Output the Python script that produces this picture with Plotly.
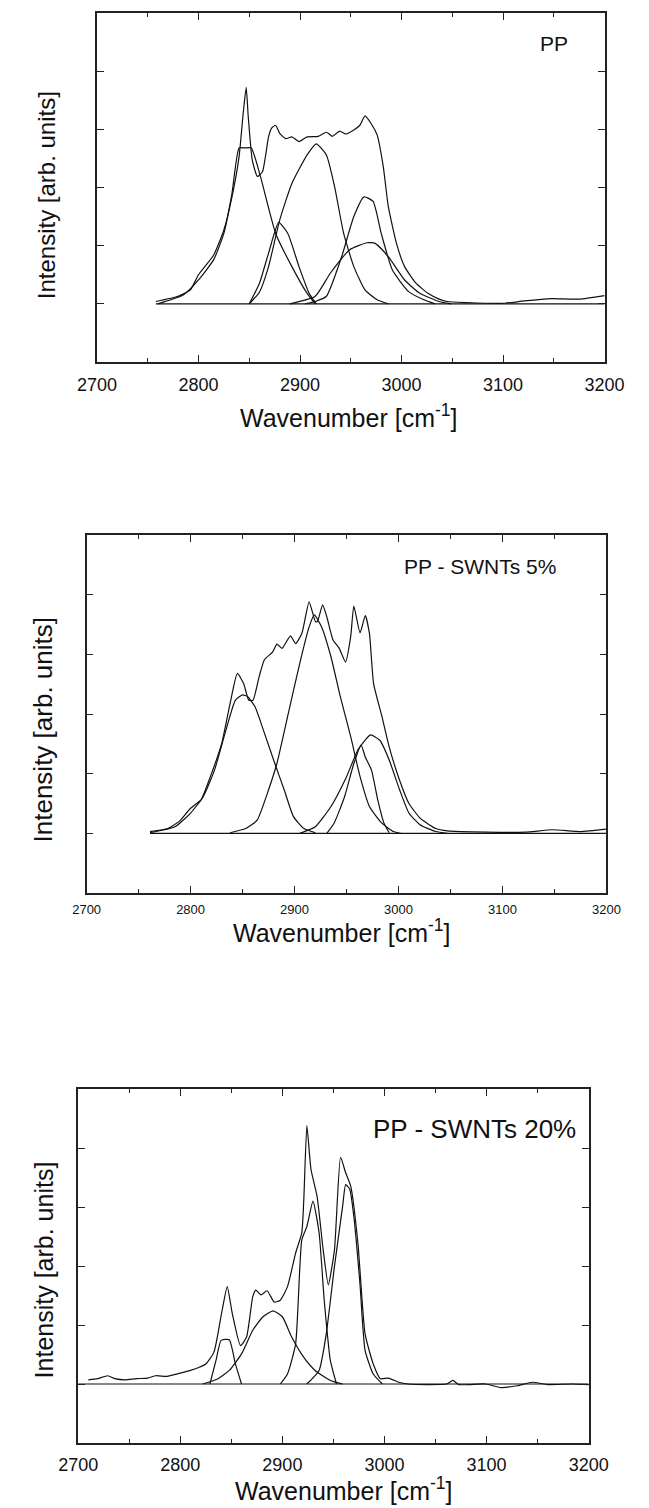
import plotly.graph_objects as go

W, H = 649, 1508

# ---------------- Panel 1: PP ----------------
pp_total_x = [2758, 2780, 2792, 2800, 2815, 2825, 2833, 2840, 2844, 2847, 2849, 2853, 2858, 2863, 2869, 2872,
              2876, 2880, 2886, 2892, 2899, 2907, 2918, 2926, 2932, 2939, 2945, 2953, 2959, 2964, 2970, 2976,
              2982, 2987, 2995, 3003, 3014, 3026, 3037, 3045, 3064, 3083, 3102, 3121, 3148, 3175, 3200]
pp_total_y = [0.04, 0.13, 0.24, 0.50, 0.84, 1.27, 1.84, 2.53, 3.27, 3.72, 3.22, 2.47, 2.19, 2.27, 2.87, 3.02,
              3.07, 2.93, 2.84, 2.87, 2.79, 2.87, 2.88, 2.95, 2.88, 2.97, 2.92, 2.99, 3.07, 3.23, 3.10, 2.90,
              2.36, 1.67, 1.04, 0.64, 0.36, 0.18, 0.08, 0.04, 0.02, 0.01, 0.01, 0.05, 0.09, 0.08, 0.14]
pp_c1_x = [2760, 2785, 2800, 2815, 2825, 2833, 2840, 2846, 2852, 2861, 2876, 2892, 2907, 2915]
pp_c1_y = [0.00, 0.15, 0.41, 0.76, 1.21, 1.90, 2.68, 2.68, 2.68, 2.19, 1.21, 0.64, 0.18, 0.00]
pp_c2_x = [2850, 2860, 2869, 2879, 2888, 2899, 2909, 2916]
pp_c2_y = [0.00, 0.35, 0.87, 1.40, 1.21, 0.64, 0.18, 0.00]
pp_c3_x = [2850, 2860, 2869, 2880, 2892, 2907, 2916, 2926, 2934, 2943, 2953, 2964, 2976, 2987]
pp_c3_y = [0.00, 0.20, 0.64, 1.44, 2.07, 2.56, 2.75, 2.56, 2.02, 1.21, 0.64, 0.24, 0.07, 0.00]
pp_c4_x = [2905, 2915, 2926, 2941, 2953, 2963, 2972, 2980, 2991, 3007, 3022, 3033]
pp_c4_y = [0.00, 0.04, 0.13, 0.81, 1.50, 1.84, 1.76, 1.21, 0.58, 0.21, 0.07, 0.00]
pp_c5_x = [2890, 2915, 2930, 2949, 2966, 2974, 2987, 3003, 3018, 3037, 3049]
pp_c5_y = [0.00, 0.13, 0.53, 0.93, 1.05, 1.04, 0.81, 0.41, 0.18, 0.04, 0.00]
pp_base_x = [2758, 3200]
pp_base_y = [0, 0]

# ---------------- Panel 2: PP - SWNTs 5% ----------------
s5_total_x = [2761, 2778, 2789, 2800, 2810, 2819, 2830, 2838, 2845, 2851, 2856, 2860, 2866, 2871, 2879, 2883,
              2888, 2896, 2901, 2907, 2914, 2920, 2922, 2927, 2931, 2937, 2943, 2949, 2954, 2957, 2963, 2968,
              2972, 2976, 2984, 2991, 3001, 3010, 3021, 3036, 3047, 3085, 3122, 3148, 3175, 3200]
s5_total_y = [0.03, 0.08, 0.20, 0.42, 0.56, 0.95, 1.51, 2.18, 2.68, 2.51, 2.23, 2.23, 2.63, 2.91, 3.04, 3.17,
              3.10, 3.31, 3.18, 3.35, 3.88, 3.55, 3.55, 3.83, 3.63, 3.24, 3.10, 2.87, 3.30, 3.81, 3.36, 3.65,
              3.35, 2.51, 1.96, 1.45, 0.89, 0.50, 0.25, 0.08, 0.04, 0.02, 0.02, 0.06, 0.03, 0.07]
s5_c1_x = [2761, 2785, 2800, 2812, 2823, 2834, 2843, 2850, 2855, 2862, 2871, 2881, 2890, 2899, 2909, 2920]
s5_c1_y = [0.01, 0.11, 0.34, 0.61, 1.06, 1.73, 2.23, 2.32, 2.29, 2.12, 1.68, 1.17, 0.73, 0.28, 0.08, 0.01]
s5_c2_x = [2838, 2853, 2864, 2875, 2883, 2894, 2905, 2914, 2919, 2926, 2935, 2944, 2954, 2963, 2972, 2984, 2995, 3002]
s5_c2_y = [0.01, 0.08, 0.22, 0.73, 1.17, 2.01, 2.85, 3.46, 3.66, 3.46, 2.96, 2.29, 1.62, 0.95, 0.45, 0.17, 0.03, 0.00]
s5_c3_x = [2931, 2938, 2948, 2957, 2964, 2968, 2974, 2980, 2986, 2991]
s5_c3_y = [0.00, 0.17, 0.61, 1.17, 1.48, 1.28, 1.06, 0.56, 0.17, 0.01]
s5_c4_x = [2905, 2920, 2935, 2950, 2961, 2973, 2982, 2991, 3001, 3010, 3021, 3036, 3047]
s5_c4_y = [0.00, 0.11, 0.45, 0.95, 1.40, 1.65, 1.56, 1.23, 0.73, 0.34, 0.14, 0.03, 0.00]
s5_base_x = [2761, 3200]
s5_base_y = [0, 0]

# ---------------- Panel 3: PP - SWNTs 20% ----------------
s20_total_x = [2710, 2719, 2729, 2736, 2746, 2757, 2768, 2776, 2787, 2799, 2810, 2818, 2825, 2833, 2841, 2846,
               2851, 2859, 2865, 2871, 2874, 2879, 2885, 2892, 2898, 2905, 2913, 2919, 2921, 2924, 2928, 2934,
               2940, 2945, 2951, 2957, 2962, 2967, 2974, 2981, 2989, 2996, 3004, 3014, 3023, 3042, 3061, 3067,
               3073, 3099, 3114, 3130, 3145, 3160, 3183, 3200]
s20_total_y = [0.07, 0.09, 0.14, 0.09, 0.07, 0.09, 0.10, 0.14, 0.13, 0.18, 0.23, 0.28, 0.34, 0.54, 1.25, 1.65,
               1.19, 0.65, 0.80, 1.48, 1.59, 1.51, 1.58, 1.39, 1.42, 1.65, 2.22, 2.56, 3.13, 4.38, 3.64, 3.18,
               2.27, 1.68, 2.27, 3.84, 3.58, 3.35, 2.39, 0.85, 0.34, 0.09, 0.10, 0.03, 0.00, -0.01, 0.00, 0.06,
               -0.01, 0.00, -0.06, -0.03, 0.03, -0.01, 0.00, -0.01]
s20_c1_x = [2829, 2835, 2840, 2848, 2854, 2860]
s20_c1_y = [0.00, 0.40, 0.74, 0.75, 0.34, 0.00]
s20_c2_x = [2822, 2837, 2848, 2860, 2871, 2881, 2891, 2900, 2909, 2921, 2932, 2947, 2959]
s20_c2_y = [0.00, 0.09, 0.23, 0.51, 0.91, 1.14, 1.24, 1.14, 0.80, 0.45, 0.23, 0.06, 0.00]
s20_c3_x = [2898, 2905, 2913, 2919, 2924, 2930, 2936, 2941, 2947, 2953]
s20_c3_y = [0.00, 0.17, 0.68, 2.44, 2.67, 3.10, 2.56, 1.42, 0.40, 0.00]
s20_c4_x = [2924, 2936, 2943, 2951, 2959, 2962, 2966, 2970, 2976, 2981, 2989, 2998]
s20_c4_y = [0.00, 0.23, 0.85, 1.99, 3.01, 3.38, 3.30, 2.84, 1.70, 0.57, 0.17, 0.00]
s20_base_x = [2700, 3200]
s20_base_y = [0, 0]

panel_labels = ["PP", "PP - SWNTs 5%", "PP - SWNTs 20%"]
x_ticks = [2700, 2800, 2900, 3000, 3100, 3200]
y_ticks = [0, 1, 2, 3, 4]

FONT = "Liberation Sans, Arial, sans-serif"
INK = "#111111"

fig = go.Figure()

panels = [
    [(pp_total_x, pp_total_y), (pp_c1_x, pp_c1_y), (pp_c2_x, pp_c2_y), (pp_c3_x, pp_c3_y),
     (pp_c4_x, pp_c4_y), (pp_c5_x, pp_c5_y), (pp_base_x, pp_base_y)],
    [(s5_total_x, s5_total_y), (s5_c1_x, s5_c1_y), (s5_c2_x, s5_c2_y), (s5_c3_x, s5_c3_y),
     (s5_c4_x, s5_c4_y), (s5_base_x, s5_base_y)],
    [(s20_total_x, s20_total_y), (s20_c1_x, s20_c1_y), (s20_c2_x, s20_c2_y), (s20_c3_x, s20_c3_y),
     (s20_c4_x, s20_c4_y), (s20_base_x, s20_base_y)],
]

# pixel boxes (left, right, top, bottom)
boxes = [(82, 623, 13, 362), (71, 625, 535, 893), (62, 606, 1089, 1443)]
tick_font = [18, 13, 18]
standoff = [6, 4, 5]


def px(x):
    return x / W


def py(y):
    return 1 - y / H


for i, series in enumerate(panels):
    sfx = "" if i == 0 else str(i + 1)
    for xs, ys in series:
        fig.add_trace(go.Scatter(x=xs, y=ys, mode="lines",
                                 line=dict(color=INK, width=1.2, shape="spline", smoothing=0.5),
                                 xaxis="x" + sfx, yaxis="y" + sfx, showlegend=False, hoverinfo="skip"))
    l, r, t, b = boxes[i]
    common = dict(showline=True, linecolor="#222222", linewidth=1.6, mirror="ticks", showgrid=False,
                  zeroline=False, ticks="inside", tickcolor="#222222", tickwidth=1.3, ticklen=7)
    fig.layout["xaxis" + sfx] = dict(
        domain=[px(l), px(r)], range=[2700, 3200], tickvals=x_ticks,
        tickfont=dict(family=FONT, size=tick_font[i], color=INK),
        ticklabelstandoff=standoff[i],
        minor=dict(dtick=50, tick0=2700, ticks="inside", ticklen=4, tickcolor="#222222", tickwidth=1),
        anchor="y" + sfx, **common)
    fig.layout["yaxis" + sfx] = dict(
        domain=[py(b), py(t)], range=[-1, 5], tickvals=y_ticks, showticklabels=False,
        anchor="x" + sfx, **common)

annotations = []
# panel labels
label_pos = [(569, 44, 21), (490, 566, 21), (484, 1129, 26)]
for txt, (x, y, s) in zip(panel_labels, label_pos):
    annotations.append(dict(text=txt, x=px(x), y=py(y), xref="paper", yref="paper", showarrow=False,
                            xanchor="center", yanchor="middle", font=dict(family=FONT, size=s, color=INK)))
# x titles
for x, y, s in [(350, 416, 25), (343, 931, 25), (345, 1489, 25)]:
    annotations.append(dict(text="Wavenumber [cm<sup>-1</sup>]", x=px(x), y=py(y), xref="paper", yref="paper",
                            showarrow=False, xanchor="center", yanchor="middle",
                            font=dict(family=FONT, size=s, color=INK)))
# y titles
for x, y, s in [(29, 195, 24), (25, 730, 26), (26, 1270, 25)]:
    annotations.append(dict(text="Intensity [arb. units]", x=px(x), y=py(y), xref="paper", yref="paper",
                            showarrow=False, xanchor="center", yanchor="middle", textangle=-90,
                            font=dict(family=FONT, size=s, color=INK)))

fig.update_layout(width=W, height=H, margin=dict(l=0, r=0, t=0, b=0), paper_bgcolor="white",
                  plot_bgcolor="white", annotations=annotations, showlegend=False)

fig.write_html("out.html", config={"displayModeBar": False},
               post_script="document.body.style.margin='0';document.body.style.overflow='hidden';")
